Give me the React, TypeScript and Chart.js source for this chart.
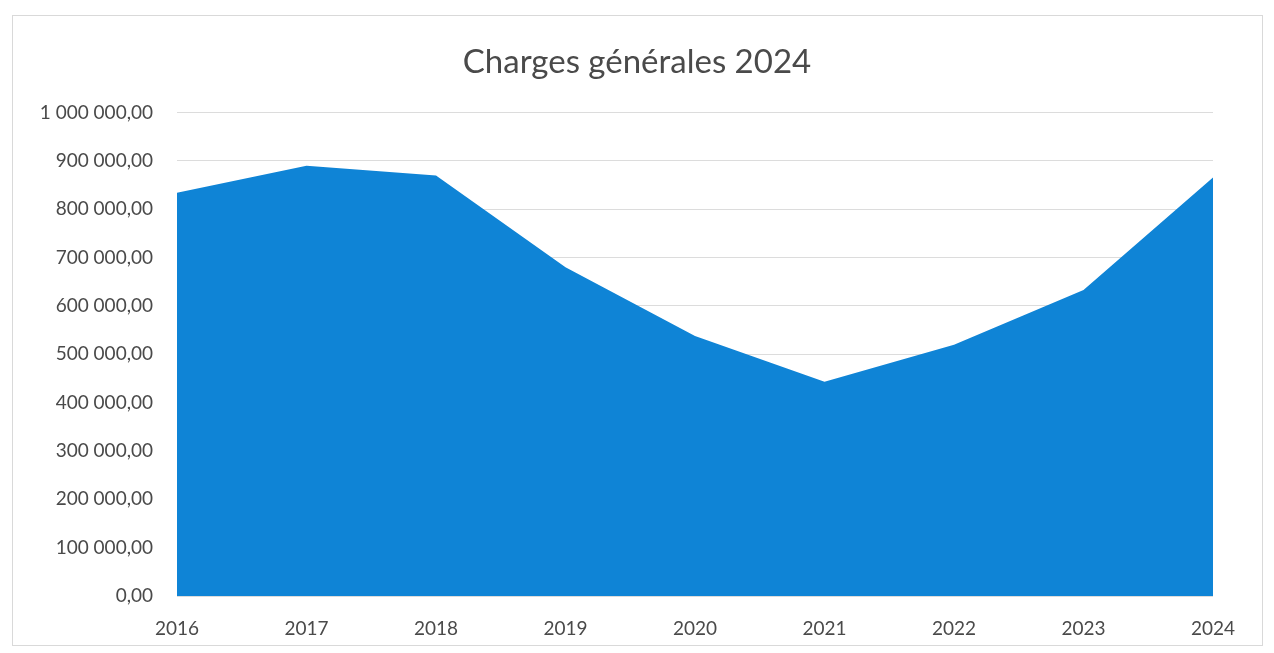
import React, { useEffect, useRef } from "react";
import { Chart, registerables } from "chart.js";

Chart.register(...registerables);

const title = "Charges générales 2024";
const years = ["2016", "2017", "2018", "2019", "2020", "2021", "2022", "2023", "2024"];
const charges = [834000, 890000, 870000, 680000, 538000, 443000, 520000, 633000, 866000];
const yMax = 1000000;
const yStep = 100000;

const fontFamily = "Lato, 'Open Sans', sans-serif";
const textColor = "#4a4a4a";

function formatFr(v: number): string {
  const int = Math.round(v).toString().replace(/\B(?=(\d{3})+(?!\d))/g, " ");
  return int + ",00";
}

const framePlugin = {
  id: "frame",
  beforeDraw(chart: any) {
    const ctx = chart.ctx;
    ctx.save();
    ctx.fillStyle = "#ffffff";
    ctx.fillRect(0, 0, chart.width, chart.height);
    ctx.strokeStyle = "#d9d9d9";
    ctx.lineWidth = 1;
    ctx.strokeRect(12.5, 15.5, 1250, 630);
    ctx.restore();
  },
  afterDraw(chart: any) {
    const ctx = chart.ctx;
    const t = chart.titleBlock;
    ctx.save();
    ctx.fillStyle = textColor;
    ctx.font = `normal 33px ${fontFamily}`;
    ctx.textAlign = "center";
    ctx.textBaseline = "middle";
    const y = t ? t.top + t.height / 2 + 6 : 60;
    ctx.fillText(title, chart.width / 2, y);
    ctx.restore();
  },
};

export default function App() {
  const ref = useRef<HTMLCanvasElement | null>(null);
  useEffect(() => {
    document.body.style.margin = "0";
    if (!ref.current) return;
    const chart = new Chart(ref.current, {
      type: "line",
      data: {
        labels: years,
        datasets: [
          {
            label: title,
            data: charges,
            fill: "origin",
            backgroundColor: "#0f84d6",
            borderColor: "#0f84d6",
            borderWidth: 0,
            pointRadius: 0,
            tension: 0,
          },
        ],
      },
      options: {
        animation: false,
        responsive: false,
        maintainAspectRatio: false,
        layout: { padding: { left: 0, right: 61, top: 0, bottom: 0 } },
        plugins: {
          legend: { display: false },
          tooltip: { enabled: false },
          title: {
            display: true,
            text: title,
            color: "rgba(0,0,0,0)",
            font: { family: fontFamily, size: 33, weight: "normal" },
            padding: { top: 40, bottom: 33 },
          },
        },
        scales: {
          x: {
            offset: false,
            grid: { display: false, drawTicks: false },
            border: { display: false },
            ticks: {
              color: textColor,
              font: { family: fontFamily, size: 19 },
              padding: 21,
              maxRotation: 0,
              autoSkip: false,
            },
            afterFit: (scale: any) => {
              scale.height = 57;
            },
          },
          y: {
            min: 0,
            max: yMax,
            grid: { color: "#dcdcdc", drawTicks: false },
            border: { display: false },
            ticks: {
              stepSize: yStep,
              color: textColor,
              font: { family: fontFamily, size: 19 },
              padding: 24,
              callback: (v: any) => formatFr(Number(v)),
            },
            afterFit: (scale: any) => {
              scale.width = 177;
            },
          },
        },
      },
      plugins: [framePlugin],
    });
    return () => chart.destroy();
  }, []);
  return (
    <div style={{ width: 1274, height: 653 }}>
      <canvas ref={ref} width={1274} height={653} style={{ display: "block" }} />
    </div>
  );
}
